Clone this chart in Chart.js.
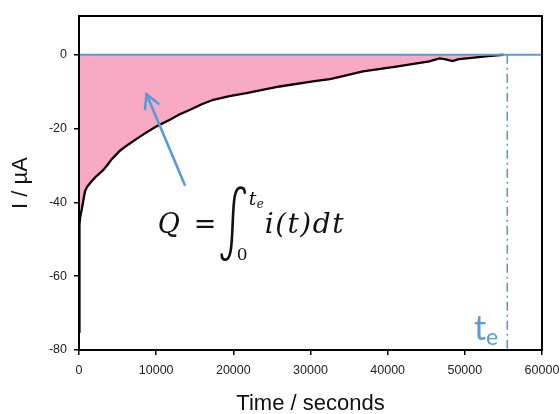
<!DOCTYPE html>
<html><head><meta charset="utf-8">
<script src="https://cdn.jsdelivr.net/npm/chart.js@4"></script>
<style>html,body{margin:0;padding:0;background:#fff}#wrap{width:560px;height:414px}</style>
</head><body><div id="wrap"><canvas id="c" width="560" height="414"></canvas></div>
<script>
// ---- data ----
const timeSeconds = [0, 60, 150, 350, 600, 780, 1050, 1420, 1800, 2200, 2700, 3150, 3700, 4200, 4750, 5300, 6400, 7460, 8700, 10050, 11770, 13000, 14400, 15900, 17400, 19500, 21700, 26000, 30300, 32500, 33800, 36800, 41100, 45400, 46700, 47400, 48400, 49200, 50600, 53000, 55000];
const currentMicroA = [-75, -46, -44, -42, -39, -37, -35.8, -34.8, -33.9, -33, -32.1, -31.2, -29.8, -28.4, -27.2, -26.0, -24.3, -22.8, -21.1, -19.4, -17.6, -16.2, -14.9, -13.4, -12.2, -11.2, -10.4, -8.6, -7.2, -6.6, -6.0, -4.5, -3.2, -1.8, -1.0, -1.2, -1.7, -1.2, -0.9, -0.4, 0];
const xTicks = [0, 10000, 20000, 30000, 40000, 50000, 60000];
const yTicks = [-80, -60, -40, -20, 0];
const endTime = 55500;           // t_e
const zeroLineTimes = [0, 60000];
const zeroLineValues = [0, 0];
const endLineValues = [0, -80];

const BLUE = '#5B9BD5';
const PINK = '#F8A9C4';

const curvePts = timeSeconds.map((t, i) => ({x: t, y: currentMicroA[i]}));
const zeroPts = zeroLineTimes.map((t, i) => ({x: t, y: zeroLineValues[i]}));
const endPts = endLineValues.map(v => ({x: endTime, y: v}));

const annot = {
  id: 'annot',
  afterDatasetsDraw(chart) {
    const {ctx, scales: {x, y}, chartArea: ca} = chart;
    ctx.save();
    // frame
    ctx.strokeStyle = '#000';
    ctx.lineWidth = 2;
    ctx.strokeRect(ca.left, ca.top, ca.right - ca.left, ca.bottom - ca.top);

    // arrow (data-space anchors)
    const fx = x.getPixelForValue(13700), fy = y.getPixelForValue(-35.2);
    const tx = x.getPixelForValue(8750), ty = y.getPixelForValue(-10.7);
    ctx.strokeStyle = BLUE; ctx.lineWidth = 2.6; ctx.lineCap = 'round';
    ctx.beginPath(); ctx.moveTo(fx, fy); ctx.lineTo(tx, ty); ctx.stroke();
    const ang = Math.atan2(fy - ty, fx - tx), hl = 15, ha = 0.5;
    ctx.beginPath();
    ctx.moveTo(tx + hl * Math.cos(ang - ha), ty + hl * Math.sin(ang - ha));
    ctx.lineTo(tx, ty);
    ctx.lineTo(tx + hl * Math.cos(ang + ha), ty + hl * Math.sin(ang + ha));
    ctx.stroke();

    // equation
    const ax = x.getPixelForValue(10200), ay = y.getPixelForValue(-48.2);
    ctx.fillStyle = '#111';
    ctx.textBaseline = 'alphabetic';
    ctx.textAlign = 'left';
    ctx.font = 'italic 27px "DejaVu Serif"';
    ctx.fillText('Q', ax, ay);
    ctx.font = '27px "DejaVu Serif"';
    ctx.fillText('=', ax + 36, ay);
    // integral sign
    ctx.strokeStyle = '#111'; ctx.lineWidth = 2.6; ctx.lineCap = 'round';
    ctx.beginPath();
    ctx.moveTo(ax + 87, ay - 40);
    ctx.quadraticCurveTo(ax + 87, ay - 45, ax + 83, ay - 45);
    ctx.bezierCurveTo(ax + 77, ay - 45, ax + 76, ay - 35, ax + 75, ay - 10);
    ctx.bezierCurveTo(ax + 74, ay + 15, ax + 73, ay + 27, ax + 68, ay + 27);
    ctx.quadraticCurveTo(ax + 64, ay + 27, ax + 64, ay + 22);
    ctx.stroke();
    ctx.font = '17px "DejaVu Serif"';
    ctx.fillText('0', ax + 79, ay + 27);
    ctx.font = 'italic 19px "DejaVu Serif"';
    ctx.fillText('t', ax + 91, ay - 28);
    ctx.font = 'italic 12px "DejaVu Serif"';
    ctx.fillText('e', ax + 99, ay - 25);
    ctx.font = 'italic 28px "DejaVu Serif"';
    ctx.letterSpacing = '1.5px';
    ctx.fillText('i(t)dt', ax + 107, ay);
    ctx.letterSpacing = '0px';

    // t_e label
    const lx = x.getPixelForValue(51200), ly = y.getPixelForValue(-77.2);
    ctx.fillStyle = BLUE;
    ctx.font = '34px Lato';
    ctx.fillText('t', lx, ly);
    ctx.font = '23px Lato';
    ctx.fillText('e', lx + 12, ly + 5);
    ctx.restore();
  }
};

const tickFont = {family: '"Liberation Sans", Arial', size: 12.5};
const titleFont = {family: '"Liberation Sans", Arial', size: 22};

new Chart(document.getElementById('c'), {
  type: 'line',
  data: {
    datasets: [
      {data: zeroPts, borderColor: BLUE, borderWidth: 2, pointRadius: 0, fill: false},
      {data: curvePts, borderColor: '#000', borderWidth: 2.3, pointRadius: 0, tension: 0,
       fill: 'origin', backgroundColor: PINK},
      {data: endPts, borderColor: BLUE, borderWidth: 1.6, borderDash: [9, 4, 2, 4], pointRadius: 0, fill: false}
    ]
  },
  options: {
    responsive: false,
    animation: false,
    layout: {padding: {top: 16, right: 18, left: 0, bottom: 0}},
    plugins: {legend: {display: false}, tooltip: {enabled: false}},
    scales: {
      x: {
        type: 'linear', min: 0, max: 60000,
        afterBuildTicks: s => { s.ticks = xTicks.map(v => ({value: v})); },
        afterFit: s => { s.height = 64; s.paddingRight = 0; s.paddingLeft = 0; },
        grid: {drawOnChartArea: false, drawTicks: true, tickLength: 5, color: '#000', lineWidth: 1.5},
        border: {display: true, color: '#000', width: 2},
        ticks: {padding: 8, color: '#222', font: tickFont, callback: v => String(v), maxRotation: 0},
        title: {display: true, text: 'Time / seconds', color: '#111', font: titleFont,
                padding: {top: 0, bottom: -3}}
      },
      y: {
        min: -80, max: 10.5,
        afterBuildTicks: s => { s.ticks = yTicks.map(v => ({value: v})); },
        afterFit: s => { s.width = 79; s.paddingTop = 0; s.paddingBottom = 0; },
        grid: {drawOnChartArea: false, drawTicks: true, tickLength: 5, color: '#000', lineWidth: 1.5},
        border: {display: true, color: '#000', width: 2},
        ticks: {padding: 7, color: '#222', font: tickFont, callback: v => String(v)},
        title: {display: true, text: 'I / µA', color: '#111', font: titleFont,
                padding: {top: 8, bottom: 0}}
      }
    }
  },
  plugins: [annot]
});
</script>
</body></html>
